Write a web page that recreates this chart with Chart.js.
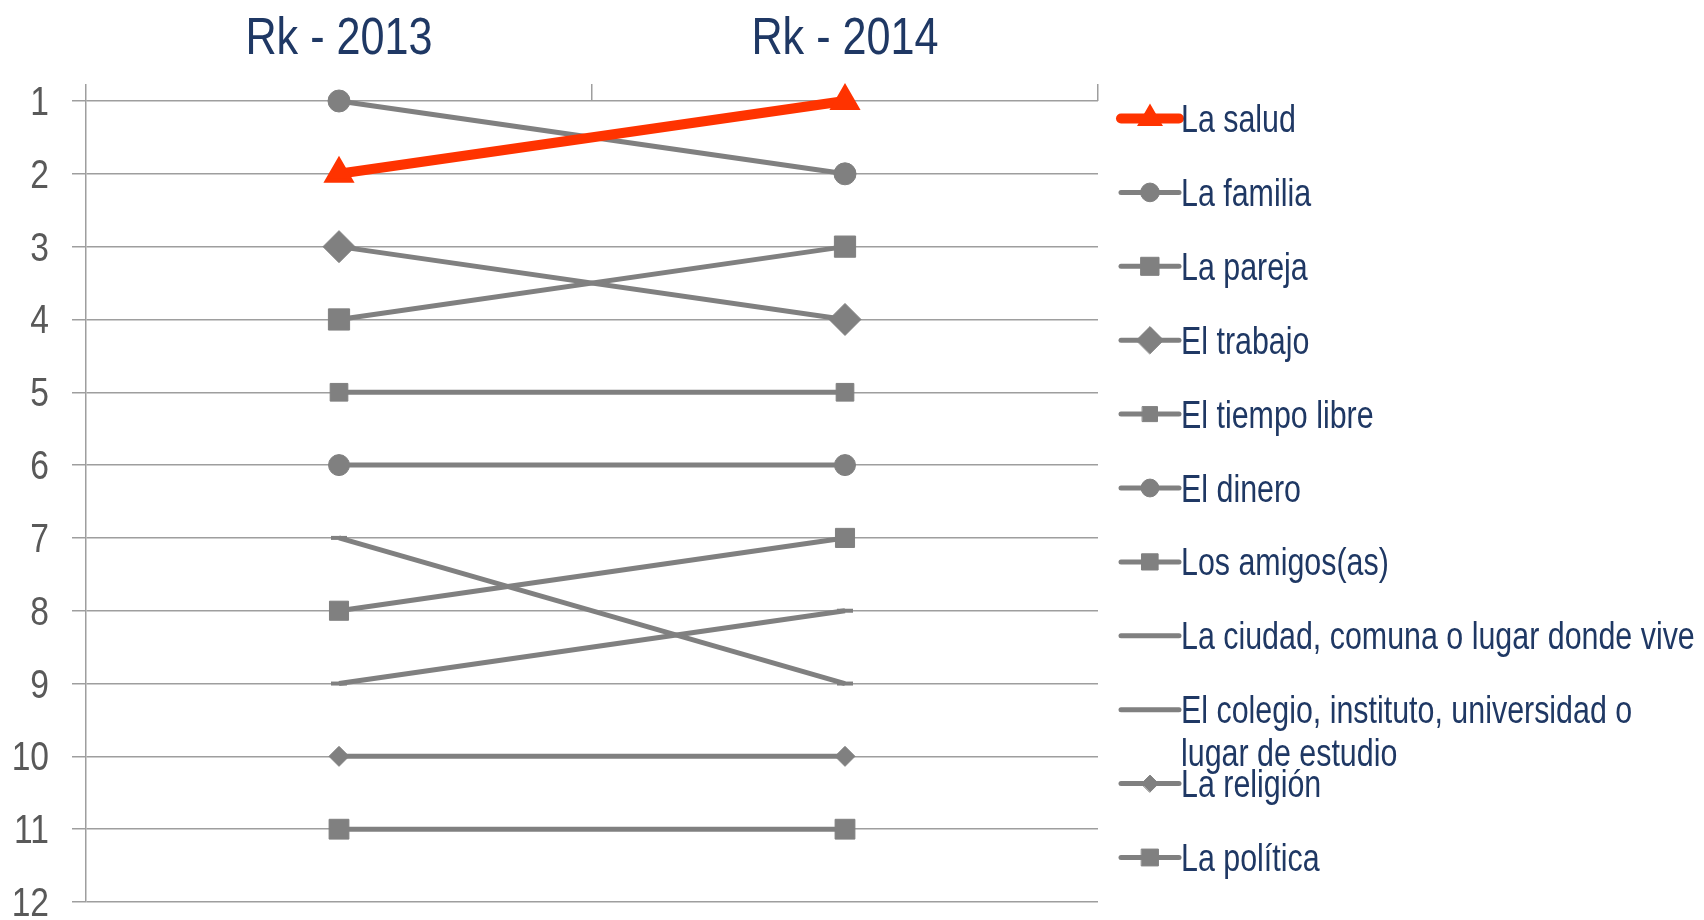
<!DOCTYPE html>
<html>
<head>
<meta charset="utf-8">
<script src="https://cdn.jsdelivr.net/npm/chart.js@4.4.1/dist/chart.umd.min.js"></script>
<style>
  html, body { margin: 0; background: #fff; }
  #wrap { width: 1704px; height: 920px; position: relative; }
</style>
</head>
<body>
<div id="wrap"><canvas id="chart-rank"></canvas></div>
<script>
// Ranking 2013 vs 2014 — slope chart (lower rank = more important)

const years = ["Rk - 2013", "Rk - 2014"];
const rankTicks = [1, 2, 3, 4, 5, 6, 7, 8, 9, 10, 11, 12];

const seriesNames = [
  "La salud",
  "La familia",
  "La pareja",
  "El trabajo",
  "El tiempo libre",
  "El dinero",
  "Los amigos(as)",
  "La ciudad, comuna o lugar donde vive",
  ["El colegio, instituto, universidad o", "lugar de estudio"],
  "La religión",
  "La política",
];

const salud = [2, 1];
const familia = [1, 2];
const pareja = [4, 3];
const trabajo = [3, 4];
const tiempoLibre = [5, 5];
const dinero = [6, 6];
const amigos = [8, 7];
const ciudad = [9, 8];
const colegio = [7, 9];
const religion = [10, 10];
const politica = [11, 11];

const seriesValues = [salud, familia, pareja, trabajo, tiempoLibre, dinero,
  amigos, ciudad, colegio, religion, politica];

// marker look per series (same order as names)
const markers = [
  { style: "triangle", r: 14 },
  { style: "circle", r: 11 },
  { style: "rect", r: 15 },
  { style: "rectRot", r: 16 },
  { style: "rect", r: 12.5 },
  { style: "circle", r: 10.5 },
  { style: "rect", r: 13.5 },
  { style: "line", r: 8 },
  { style: "line", r: 8 },
  { style: "rectRot", r: 10 },
  { style: "rect", r: 14 },
];

const GRAY = "#808080";
const RED = "#ff3300";
const NAVY = "#1f3864";
const GRID = "#9e9e9e";
const FONT = "'Liberation Sans', Arial, sans-serif";

const datasets = seriesNames.map((name, i) => {
  const color = i === 0 ? RED : GRAY;
  return {
    label: name,
    data: seriesValues[i],
    borderColor: color,
    backgroundColor: color,
    borderWidth: i === 0 ? 10 : 5,
    pointStyle: markers[i].style,
    pointRadius: markers[i].r,
    pointBackgroundColor: color,
    pointBorderColor: color,
    pointBorderWidth: markers[i].style === "line" ? 4 : i === 0 ? 4 : 1,
    tension: 0,
    clip: false,
    legendLine: i === 0 ? 10 : 5,
  };
});

// narrow text: Arial-metric font squeezed horizontally (like Arial Narrow)
function narrowText(ctx, text, x, y, align, size, color, sx) {
  ctx.save();
  ctx.font = size + "px " + FONT;
  ctx.fillStyle = color;
  ctx.textBaseline = "alphabetic";
  ctx.textAlign = align;
  ctx.translate(x, y);
  ctx.scale(sx, 1);
  ctx.fillText(text, 0, 0);
  ctx.restore();
}

// axis labels drawn at the scales' own tick positions
const axisText = {
  id: "axisText",
  afterDraw(chart) {
    const ctx = chart.ctx;
    const xs = chart.scales.x;
    const ys = chart.scales.y;
    chart.data.labels.forEach((lab, i) => {
      narrowText(ctx, lab, xs.getPixelForTick(i), 54, "center", 52, NAVY, 0.83);
    });
    ys.ticks.forEach((t) => {
      narrowText(ctx, String(t.value), 49, ys.getPixelForValue(t.value) + 14, "right", 40, "#595959", 0.84);
    });
  },
};

// legend on the right: line + marker + label, drawn from the datasets
const sideLegend = {
  id: "sideLegend",
  afterDraw(chart) {
    const ctx = chart.ctx;
    const x0 = 1121, x1 = 1179, textX = 1181;
    chart.data.datasets.forEach((ds, i) => {
      const y = 118.5 + i * 73.9;
      ctx.save();
      ctx.strokeStyle = ds.borderColor;
      ctx.fillStyle = ds.borderColor;
      ctx.lineWidth = ds.legendLine;
      ctx.lineCap = "round";
      ctx.beginPath();
      ctx.moveTo(x0, y);
      ctx.lineTo(x1, y);
      ctx.stroke();
      if (ds.pointStyle !== "line") {
        ctx.lineWidth = ds.pointBorderWidth;
        Chart.helpers.drawPoint(ctx, {
          pointStyle: ds.pointStyle,
          radius: ds.pointStyle === "triangle" ? 11 : ds.pointRadius * 0.85,
          borderWidth: ds.pointBorderWidth,
          rotation: 0,
        }, (x0 + x1) / 2, y);
      }
      ctx.restore();
      const lines = Array.isArray(ds.label) ? ds.label : [ds.label];
      lines.forEach((t, k) => narrowText(ctx, t, textX, y + 13.5 + k * 43, "left", 38, NAVY, 0.8));
    });
  },
};

new Chart(document.getElementById("chart-rank"), {
  type: "line",
  data: { labels: years, datasets },
  plugins: [axisText, sideLegend],
  options: {
    responsive: true,
    maintainAspectRatio: false,
    animation: false,
    layout: { padding: { left: 0, top: 0, right: 606, bottom: 18 } },
    plugins: {
      legend: { display: false },
      tooltip: { enabled: false },
    },
    scales: {
      x: {
        type: "category",
        position: "top",
        offset: true,
        grid: {
          offset: true,
          drawOnChartArea: false,
          tickLength: 17,
          color: GRID,
          lineWidth: 1.5,
        },
        border: { display: false },
        ticks: { display: false },
        afterFit: (s) => { s.height = 101; },
      },
      y: {
        reverse: true,
        min: rankTicks[0],
        max: rankTicks[rankTicks.length - 1],
        afterBuildTicks: (s) => { s.ticks = rankTicks.map((v) => ({ value: v })); },
        grid: { color: GRID, lineWidth: 1.5, tickLength: 14 },
        border: { color: GRID, width: 1.5 },
        ticks: { display: false },
        afterFit: (s) => { s.width = 86; },
      },
    },
  },
});
</script>
</body>
</html>
